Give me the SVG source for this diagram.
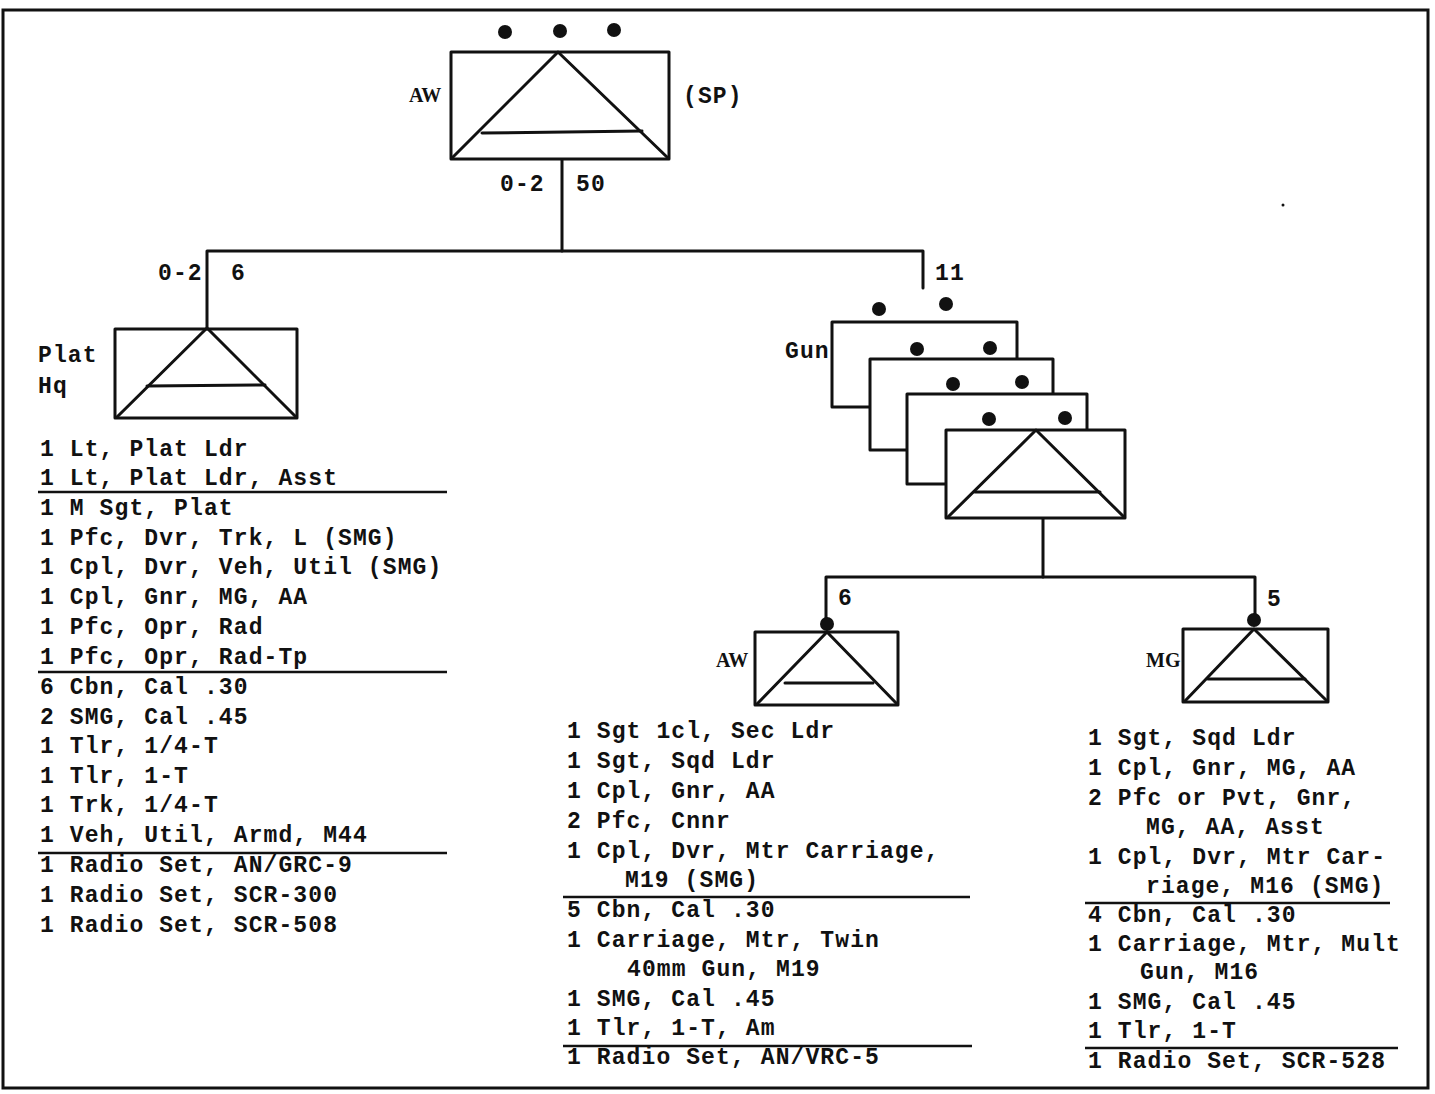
<svg xmlns="http://www.w3.org/2000/svg" width="1435" height="1094" viewBox="0 0 1435 1094">
<style>
.t{font-family:"Liberation Mono","DejaVu Sans Mono",monospace;font-size:23px;font-weight:bold;letter-spacing:1.1px;fill:#111}
.lb{font-family:"Liberation Serif","DejaVu Serif",serif;font-size:20px;font-weight:bold;fill:#111}
.bx{fill:#fff;stroke:#111;stroke-width:3;stroke-linejoin:round}
.ln{fill:none;stroke:#111;stroke-width:3;stroke-linecap:round;stroke-linejoin:round}
.ul{stroke:#111;stroke-width:2.5}
.dot{fill:#111}
</style>
<rect x="3" y="10" width="1425" height="1078" fill="#fff" stroke="#111" stroke-width="3"/>

<g id="connectors">
<polyline class="ln" points="562,160 562,251"/>
<polyline class="ln" points="207,327 207,251 923,251 923,288"/>
<polyline class="ln" points="1043,518 1043,577"/>
<polyline class="ln" points="826,625 826,577 1255,577 1255,618"/>
</g>

<g id="node-aw-battery">
<circle class="dot" cx="505" cy="32" r="7"/>
<circle class="dot" cx="560" cy="31" r="7"/>
<circle class="dot" cx="614" cy="30" r="7"/>
<rect class="bx" x="451" y="52" width="218" height="107"/>
<polyline class="ln" points="452,158 558,52 668,158"/>
<line class="ln" x1="482" y1="133" x2="642" y2="131"/>
<text class="lb" x="409" y="102">AW</text>
<text class="t" x="683" y="103">(SP)</text>
<text class="t" x="500" y="191">0-2</text>
<text class="t" x="576" y="191">50</text>
</g>

<g id="node-plat-hq">
<rect class="bx" x="115" y="329" width="182" height="89"/>
<polyline class="ln" points="117,417 207,328 296,417"/>
<line class="ln" x1="147" y1="386" x2="265" y2="385"/>
<text class="t" x="158" y="280">0-2</text>
<text class="t" x="231" y="280">6</text>
<text class="t" x="38" y="362">Plat</text>
<text class="t" x="38" y="393">Hq</text>
<text class="t" x="40" y="456">1 Lt, Plat Ldr</text>
<text class="t" x="40" y="485">1 Lt, Plat Ldr, Asst</text>
<line class="ul" x1="38" y1="492" x2="447" y2="492"/>
<text class="t" x="40" y="515">1 M Sgt, Plat</text>
<text class="t" x="40" y="545">1 Pfc, Dvr, Trk, L (SMG)</text>
<text class="t" x="40" y="574">1 Cpl, Dvr, Veh, Util (SMG)</text>
<text class="t" x="40" y="604">1 Cpl, Gnr, MG, AA</text>
<text class="t" x="40" y="634">1 Pfc, Opr, Rad</text>
<text class="t" x="40" y="664">1 Pfc, Opr, Rad-Tp</text>
<line class="ul" x1="38" y1="672" x2="447" y2="672"/>
<text class="t" x="40" y="694">6 Cbn, Cal .30</text>
<text class="t" x="40" y="724">2 SMG, Cal .45</text>
<text class="t" x="40" y="753">1 Tlr, 1/4-T</text>
<text class="t" x="40" y="783">1 Tlr, 1-T</text>
<text class="t" x="40" y="812">1 Trk, 1/4-T</text>
<text class="t" x="40" y="842">1 Veh, Util, Armd, M44</text>
<line class="ul" x1="38" y1="853" x2="447" y2="853"/>
<text class="t" x="40" y="872">1 Radio Set, AN/GRC-9</text>
<text class="t" x="40" y="902">1 Radio Set, SCR-300</text>
<text class="t" x="40" y="932">1 Radio Set, SCR-508</text>
</g>

<g id="node-gun-sections">
<text class="t" x="935" y="280">11</text>
<circle class="dot" cx="879" cy="309" r="7"/>
<circle class="dot" cx="946" cy="304" r="7"/>
<rect class="bx" x="832" y="322" width="185" height="85"/>
<text class="t" x="785" y="358">Gun</text>
<circle class="dot" cx="917" cy="349" r="7"/>
<circle class="dot" cx="990" cy="348" r="7"/>
<rect class="bx" x="870" y="359" width="183" height="91"/>
<circle class="dot" cx="953" cy="384" r="7"/>
<circle class="dot" cx="1022" cy="382" r="7"/>
<rect class="bx" x="907" y="394" width="180" height="90"/>
<circle class="dot" cx="989" cy="419" r="7"/>
<circle class="dot" cx="1065" cy="418" r="7"/>
<rect class="bx" x="946" y="430" width="179" height="88"/>
<polyline class="ln" points="948,517 1036,430 1124,517"/>
<line class="ln" x1="975" y1="492" x2="1100" y2="492"/>
</g>

<g id="node-aw-squad">
<text class="t" x="838" y="605">6</text>
<circle class="dot" cx="827" cy="624" r="7"/>
<rect class="bx" x="755" y="632" width="143" height="73"/>
<polyline class="ln" points="757,704 827,632 897,704"/>
<line class="ln" x1="785" y1="683" x2="873" y2="683"/>
<text class="lb" x="716" y="667">AW</text>
<text class="t" x="567" y="738">1 Sgt 1cl, Sec Ldr</text>
<text class="t" x="567" y="768">1 Sgt, Sqd Ldr</text>
<text class="t" x="567" y="798">1 Cpl, Gnr, AA</text>
<text class="t" x="567" y="828">2 Pfc, Cnnr</text>
<text class="t" x="567" y="858">1 Cpl, Dvr, Mtr Carriage,</text>
<text class="t" x="625" y="887">M19 (SMG)</text>
<line class="ul" x1="563" y1="897" x2="970" y2="897"/>
<text class="t" x="567" y="917">5 Cbn, Cal .30</text>
<text class="t" x="567" y="947">1 Carriage, Mtr, Twin</text>
<text class="t" x="627" y="976">40mm Gun, M19</text>
<text class="t" x="567" y="1006">1 SMG, Cal .45</text>
<text class="t" x="567" y="1035">1 Tlr, 1-T, Am</text>
<line class="ul" x1="563" y1="1046" x2="972" y2="1046"/>
<text class="t" x="567" y="1064">1 Radio Set, AN/VRC-5</text>
</g>

<g id="node-mg-squad">
<text class="t" x="1267" y="606">5</text>
<circle class="dot" cx="1254" cy="620" r="7"/>
<rect class="bx" x="1183" y="629" width="145" height="73"/>
<polyline class="ln" points="1185,701 1254,629 1327,701"/>
<line class="ln" x1="1208" y1="679" x2="1305" y2="679"/>
<text class="lb" x="1146" y="667">MG</text>
<text class="t" x="1088" y="745">1 Sgt, Sqd Ldr</text>
<text class="t" x="1088" y="775">1 Cpl, Gnr, MG, AA</text>
<text class="t" x="1088" y="805">2 Pfc or Pvt, Gnr,</text>
<text class="t" x="1146" y="834">MG, AA, Asst</text>
<text class="t" x="1088" y="864">1 Cpl, Dvr, Mtr Car-</text>
<text class="t" x="1146" y="893">riage, M16 (SMG)</text>
<line class="ul" x1="1085" y1="903" x2="1390" y2="903"/>
<text class="t" x="1088" y="922">4 Cbn, Cal .30</text>
<text class="t" x="1088" y="951">1 Carriage, Mtr, Mult</text>
<text class="t" x="1140" y="979">Gun, M16</text>
<text class="t" x="1088" y="1009">1 SMG, Cal .45</text>
<text class="t" x="1088" y="1038">1 Tlr, 1-T</text>
<line class="ul" x1="1085" y1="1048" x2="1398" y2="1048"/>
<text class="t" x="1088" y="1068">1 Radio Set, SCR-528</text>
</g>
<circle class="dot" cx="1283" cy="205" r="1.5"/>
</svg>
